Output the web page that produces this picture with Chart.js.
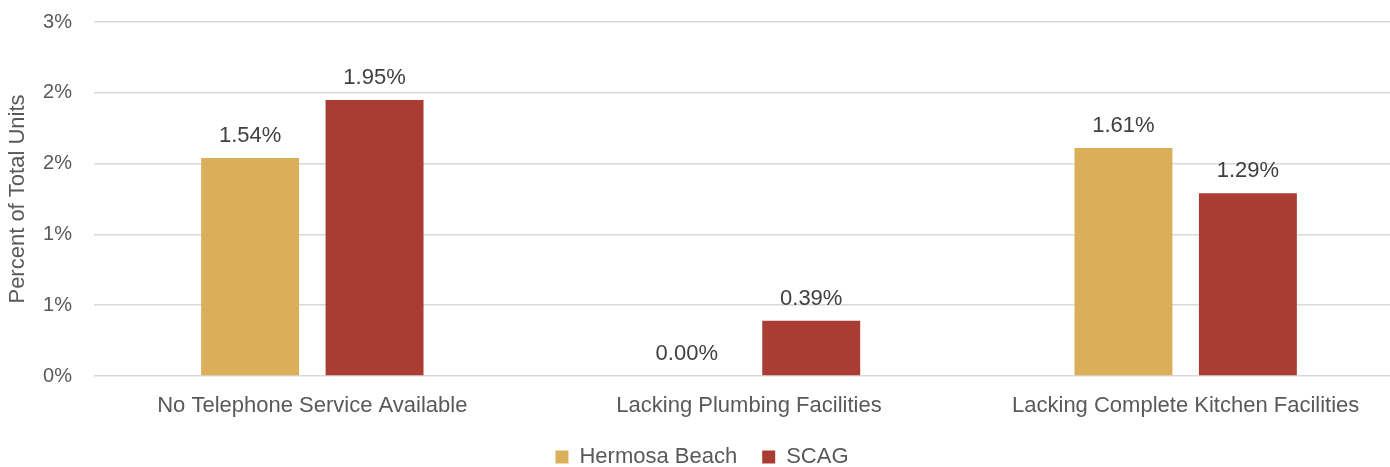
<!DOCTYPE html>
<html>
<head>
<meta charset="utf-8">
<script src="https://cdn.jsdelivr.net/npm/chart.js@4/dist/chart.umd.min.js"></script>
<style>
html,body{margin:0;padding:0;background:#fff;overflow:hidden;}
#wrap{width:1404px;height:467px;}
</style>
</head>
<body>
<div id="wrap"><canvas id="c" width="1404" height="467"></canvas></div>
<script>
const categories = ['No Telephone Service Available', 'Lacking Plumbing Facilities', 'Lacking Complete Kitchen Facilities'];
const hermosaBeach = [1.54, 0.00, 1.61];
const scag = [1.95, 0.39, 1.29];
const yTickLabels = ['0%', '1%', '1%', '2%', '2%', '3%'];
const seriesNames = ['Hermosa Beach', 'SCAG'];

const FONT = "'Liberation Sans', Arial, sans-serif";
const TEXT = '#595959';

const dataLabels = {
  id: 'dataLabels',
  afterDatasetsDraw(chart) {
    const ctx = chart.ctx;
    ctx.save();
    ctx.font = '22px ' + FONT;
    ctx.fillStyle = '#404040';
    ctx.textAlign = 'center';
    ctx.textBaseline = 'bottom';
    chart.data.datasets.forEach((ds, i) => {
      const meta = chart.getDatasetMeta(i);
      meta.data.forEach((el, j) => {
        ctx.fillText(ds.data[j].toFixed(2) + '%', el.x, el.y - 11);
      });
    });
    ctx.restore();
  }
};

new Chart(document.getElementById('c'), {
  type: 'bar',
  data: {
    labels: categories,
    datasets: [
      { label: seriesNames[0], data: hermosaBeach, backgroundColor: '#DBAF59', categoryPercentage: 0.57, barPercentage: 0.787 },
      { label: seriesNames[1], data: scag, backgroundColor: '#A93D33', categoryPercentage: 0.57, barPercentage: 0.787 }
    ]
  },
  options: {
    responsive: false,
    animation: false,
    layout: { padding: { top: 22, left: 0, right: 0, bottom: -11 } },
    plugins: {
      tooltip: { enabled: false },
      legend: {
        position: 'bottom',
        labels: {
          boxWidth: 13, boxHeight: 13, padding: 25,
          color: TEXT,
          font: { family: FONT, size: 22 }
        }
      }
    },
    scales: {
      x: {
        afterFit(s) { s.height = 45; s.paddingTop = 0; s.paddingBottom = 0; },
        grid: { display: false, drawTicks: false },
        border: { display: false },
        ticks: { color: TEXT, font: { family: FONT, size: 22 }, padding: 17, maxRotation: 0 }
      },
      y: {
        min: 0, max: 2.5,
        afterFit(s) { s.width = 94; s.paddingTop = 0; s.paddingBottom = 0; },
        grid: { color: '#D9D9D9', lineWidth: 1.5, drawTicks: false },
        border: { display: false },
        ticks: {
          stepSize: 0.5, padding: 22, color: TEXT,
          font: { family: FONT, size: 20 },
          callback: (v, i) => yTickLabels[i]
        },
        title: {
          display: true, text: 'Percent of Total Units', color: TEXT,
          font: { family: FONT, size: 22 }, padding: { top: 5, bottom: 0 }
        }
      }
    }
  },
  plugins: [dataLabels]
});
</script>
</body>
</html>
